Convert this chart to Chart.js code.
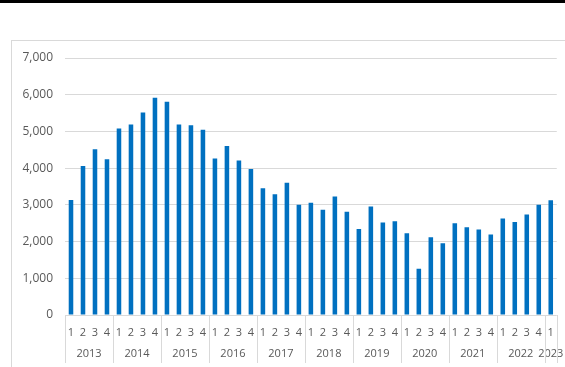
<!DOCTYPE html>
<html>
<head>
<meta charset="utf-8">
<script src="https://cdn.jsdelivr.net/npm/chart.js@4/dist/chart.umd.min.js"></script>
<style>
  html, body { margin: 0; padding: 0; background: #fff; }
  #wrap { position: relative; width: 565px; height: 367px; overflow: hidden; }
  #topband { position: absolute; left: 0; top: 0; width: 565px; height: 3px; background: #000; }
  #frame { position: absolute; left: 11px; top: 40px; width: 600px; height: 400px; border: 1px solid #d9d9d9; box-sizing: border-box; }
  #c { position: absolute; left: 0; top: 0; }
</style>
</head>
<body>
<div id="wrap">
  <div id="topband"></div>
  <div id="frame"></div>
  <canvas id="c" width="565" height="367"></canvas>
</div>
<script>
// Quarterly series, 2013 Q1 – 2023 Q1
const years = ['2013','2014','2015','2016','2017','2018','2019','2020','2021','2022','2023'];
const quartersPerYear = [4,4,4,4,4,4,4,4,4,4,1];
const quarterLabels = ['1','2','3','4'];
const values = [
  3130, 4060, 4515, 4245,
  5080, 5190, 5515, 5920,
  5810, 5190, 5170, 5045,
  4260, 4605, 4205, 3980,
  3455, 3290, 3605, 3000,
  3060, 2870, 3225, 2815,
  2345, 2955, 2520, 2555,
  2225, 1260, 2120, 1955,
  2500, 2390, 2330, 2190,
  2630, 2530, 2735, 3000,
  3125
];
const yTicks = [0,1000,2000,3000,4000,5000,6000,7000];

// Build one category label per quarter
const labels = [];
years.forEach((y, i) => {
  for (let q = 0; q < quartersPerYear[i]; q++) labels.push(quarterLabels[q]);
});

const FONT = "'Open Sans', 'Liberation Sans', sans-serif";
const TEXT = '#595959';
const LINE = '#d9d9d9';

// Year row with group separators beneath the quarter labels
const yearRow = {
  id: 'yearRow',
  afterDraw(chart) {
    const ctx = chart.ctx;
    const x = chart.scales.x;
    const top = x.top;
    const bottom = 363;
    const half = (x.getPixelForValue(1) - x.getPixelForValue(0)) / 2;
    ctx.save();
    ctx.strokeStyle = LINE;
    ctx.lineWidth = 1;
    ctx.fillStyle = TEXT;
    ctx.font = '11px ' + FONT;
    ctx.textAlign = 'center';
    ctx.textBaseline = 'middle';
    let idx = 0;
    const edges = [];
    years.forEach((y, i) => {
      const first = idx, last = idx + quartersPerYear[i] - 1;
      const left = x.getPixelForValue(first) - half;
      const right = x.getPixelForValue(last) + half;
      edges.push(left, right);
      const cx = (x.getPixelForValue(first) + x.getPixelForValue(last)) / 2;
      ctx.fillText(y, cx, 354);
      idx = last + 1;
    });
    [...new Set(edges.map(e => Math.round(e)))].forEach(e => {
      ctx.beginPath();
      ctx.moveTo(e + 0.5, top);
      ctx.lineTo(e + 0.5, bottom);
      ctx.stroke();
    });
    ctx.restore();
  }
};

new Chart(document.getElementById('c'), {
  type: 'bar',
  data: {
    labels: labels,
    datasets: [{
      data: values,
      backgroundColor: '#0070c0',
      borderWidth: 0,
      categoryPercentage: 1,
      barPercentage: 0.38
    }]
  },
  options: {
    responsive: false,
    animation: false,
    devicePixelRatio: 1,
    layout: { padding: { left: 12, right: 8, top: 58, bottom: 0 } },
    plugins: { legend: { display: false }, tooltip: { enabled: false } },
    scales: {
      x: {
        grid: { display: false, drawTicks: false },
        border: { display: false },
        ticks: { color: TEXT, font: { family: FONT, size: 11 }, padding: 11, maxRotation: 0, autoSkip: false },
        afterFit(s) { s.height = 52; }
      },
      y: {
        min: 0, max: 7000,
        afterBuildTicks(s) { s.ticks = yTicks.map(v => ({ value: v })); },
        grid: { color: LINE, drawTicks: false, lineWidth: 1 },
        border: { display: false },
        ticks: {
          color: TEXT, font: { family: FONT, size: 12 }, padding: 12,
          callback: v => v.toLocaleString('en-US')
        },
        afterFit(s) { s.width = 53; }
      }
    }
  },
  plugins: [yearRow]
});
</script>
</body>
</html>
